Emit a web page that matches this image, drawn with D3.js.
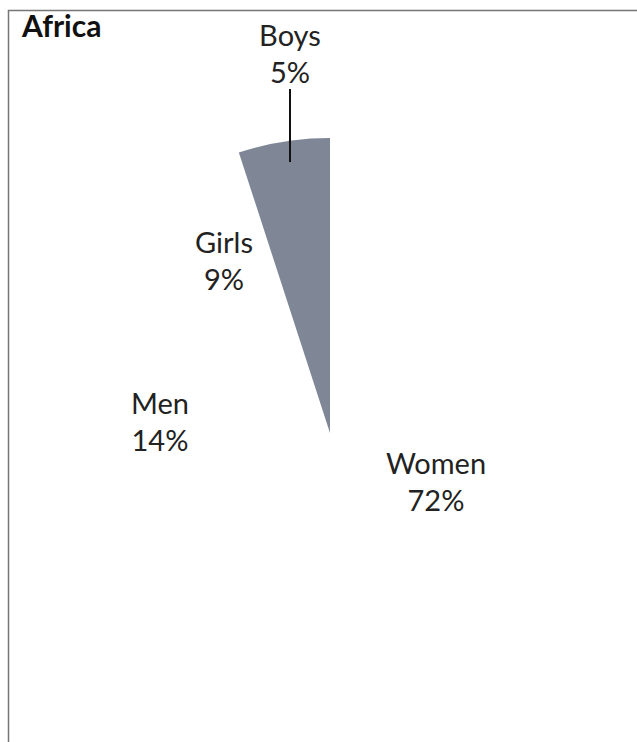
<!DOCTYPE html>
<html><head><meta charset="utf-8">
<script src="https://cdn.jsdelivr.net/npm/d3@7"></script>
<style>body{margin:0;background:#fff}svg{display:block}</style>
</head><body>
<script>
const categories = ["Women", "Men", "Girls", "Boys"];
const values = [72, 14, 9, 5];
const labels = ["72%", "14%", "9%", "5%"];
const title = "Africa";

const W = 637, H = 742;
const cx = 330, cy = 433, R = 295;
const fills = {"Women": "#ffffff", "Men": "#ffffff", "Girls": "#ffffff", "Boys": "#7f8797"};
// label anchor points (center x, first baseline) and optional leader line
const labelLayout = {
  "Women": {x: 436, y: 474},
  "Men":   {x: 160, y: 414},
  "Girls": {x: 224, y: 253},
  "Boys":  {x: 290, y: 46, leader: true}
};

const svg = d3.select("body").append("svg").attr("width", W).attr("height", H);
svg.append("rect").attr("x", 8.5).attr("y", 10.5).attr("width", 800).attr("height", 900)
  .attr("fill", "#fff").attr("stroke", "#767676").attr("stroke-width", 1.5);

svg.append("text").attr("x", 22).attr("y", 37).text(title)
  .attr("font-family", "Lato, 'Open Sans', sans-serif").attr("font-weight", "bold")
  .attr("font-size", 30).attr("fill", "#111");

const data = categories.map((c, i) => ({cat: c, value: values[i], label: labels[i]}));
const pie = d3.pie().sort(null).value(d => d.value);
const arc = d3.arc().innerRadius(0).outerRadius(R);
const arcs = pie(data);

const g = svg.append("g").attr("transform", `translate(${cx},${cy})`);
g.selectAll("path").data(arcs).join("path")
  .attr("d", arc).attr("fill", d => fills[d.data.cat]).attr("stroke", "none");

const font = "Lato, 'Open Sans', sans-serif";
arcs.forEach(a => {
  const L = labelLayout[a.data.cat];
  const t = svg.append("text").attr("text-anchor", "middle")
    .attr("font-family", font).attr("font-size", 29).attr("fill", "#222");
  t.append("tspan").attr("x", L.x).attr("y", L.y).text(a.data.cat);
  t.append("tspan").attr("x", L.x).attr("y", L.y + 37).text(a.data.label);
  if (L.leader) {
    const mid = (a.startAngle + a.endAngle) / 2;
    const r2 = R * 0.93;
    const py = cy - r2 * Math.cos(mid);
    svg.append("line").attr("x1", L.x).attr("x2", L.x).attr("y1", L.y + 43).attr("y2", py)
      .attr("stroke", "#111").attr("stroke-width", 2);
  }
});
</script>
</body></html>
